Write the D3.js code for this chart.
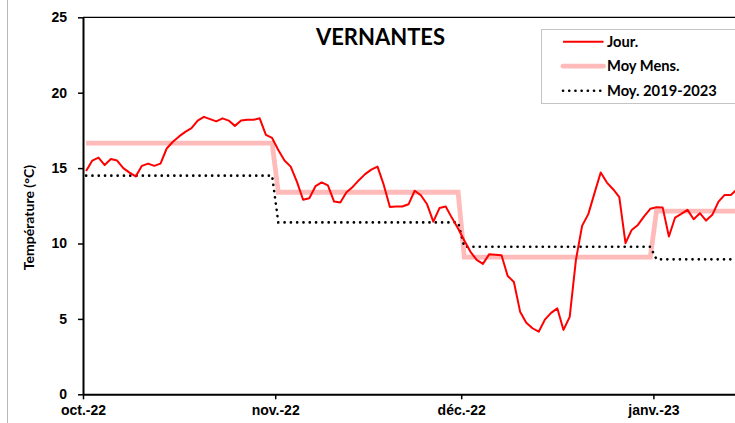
<!DOCTYPE html>
<html>
<head>
<meta charset="utf-8">
<script src="https://cdn.jsdelivr.net/npm/d3@7"></script>
<style>
  body { margin: 0; background: #fff; }
  svg { display: block; font-family: Lato, "Liberation Sans", sans-serif; font-weight: bold; }
  .axis text { font-size: 14px; fill: #000; font-weight: bold; }
  .axis path, .axis line { stroke: #000; }
</style>
</head>
<body>
<svg width="735" height="423"></svg>
<script>
// daily temperatures from 1 oct. 2022
const jour = [
  14.8, 15.5, 15.7, 15.2, 15.6, 15.5, 15.0, 14.7, 14.45, 15.15,
  15.3, 15.15, 15.3, 16.3, 16.75, 17.1, 17.4, 17.65, 18.15, 18.4,
  18.25, 18.1, 18.3, 18.15, 17.8, 18.15, 18.2, 18.2, 18.3, 17.2,
  17.0,
  16.2, 15.5, 15.1, 14.1, 12.9, 13.0, 13.8, 14.05, 13.85, 12.78,
  12.72, 13.4, 13.75, 14.2, 14.6, 14.9, 15.1, 13.9, 12.42, 12.45,
  12.45, 12.6, 13.5, 13.2, 12.6, 11.45, 12.35, 12.45, 11.7, 11.0,
  10.2, 9.45, 8.91, 8.65, 9.28, 9.25, 9.22, 7.85, 7.45, 5.48,
  4.75, 4.38, 4.15, 4.95, 5.4, 5.7, 4.27, 5.13, 8.9, 11.17,
  11.95, 13.34, 14.71, 14.04, 13.6, 13.07, 10.02, 10.9, 11.23, 11.8,
  12.3,
  12.4, 12.38, 10.46, 11.72, 11.96, 12.23, 11.61, 12.01, 11.52, 11.9,
  12.78, 13.22, 13.22, 13.6
];

// monthly values
const mois = ["2022-10", "2022-11", "2022-12", "2023-01"];
const moisLabels = ["oct.-22", "nov.-22", "déc.-22", "janv.-23"];
const moyMens = [16.65, 13.4, 9.1, 12.15];
const moy5ans = [14.5, 11.4, 9.78, 8.95];
const yTicks = [0, 5, 10, 15, 20, 25];

const svg = d3.select("svg");
const W = 735, H = 423;
const margin = {left: 83, top: 17.3, bottom: 394.3};
const pxPerDay = 6.2;
const DAY = 864e5;

const start = Date.UTC(2022, 9, 1);
const end = Date.UTC(2023, 1, 1);
const monthDates = mois.map(m => new Date(m + "-01T00:00:00Z"));

const x = d3.scaleUtc()
  .domain([new Date(start), new Date(end)])
  .range([margin.left, margin.left + (end - start) / DAY * pxPerDay]);
const y = d3.scaleLinear().domain([0, 25]).range([margin.bottom, margin.top]);

// points sit at the middle of each day
const dayDate = i => new Date(start + (i + 0.5) * DAY);
const dailyData = jour.map((v, i) => ({date: dayDate(i), v}));

// step series: each day gets its month's value
const nDays = (end - start) / DAY;
const stepData = arr => d3.range(nDays).map(i => {
  const dt = dayDate(i);
  const k = (dt.getUTCFullYear() - 2022) * 12 + dt.getUTCMonth() - 9;
  return {date: dt, v: arr[k]};
});

// outer chart border on the left
svg.append("line")
  .attr("x1", 7.5).attr("x2", 7.5).attr("y1", 0).attr("y2", H)
  .attr("stroke", "#b8b8b8").attr("stroke-width", 1);

// top border of plot area
svg.append("line")
  .attr("x1", margin.left).attr("x2", W + 5)
  .attr("y1", margin.top).attr("y2", margin.top)
  .attr("stroke", "#000").attr("stroke-width", 1.3);

const line = d3.line().x(d => x(d.date)).y(d => y(d.v));

svg.append("path")
  .datum(stepData(moyMens))
  .attr("fill", "none")
  .attr("stroke", "#ffbaba")
  .attr("stroke-width", 4.8)
  .attr("d", line);

svg.append("path")
  .datum(stepData(moy5ans))
  .attr("fill", "none")
  .attr("stroke", "#000")
  .attr("stroke-width", 2.6)
  .attr("stroke-linecap", "round")
  .attr("stroke-dasharray", "0.1 6.2")
  .attr("d", line);

svg.append("path")
  .datum(dailyData)
  .attr("fill", "none")
  .attr("stroke", "#ff0000")
  .attr("stroke-width", 2)
  .attr("stroke-linejoin", "round")
  .attr("d", line);

// axes
svg.append("g")
  .attr("class", "axis")
  .attr("transform", `translate(${margin.left},0)`)
  .call(d3.axisLeft(y).tickValues(yTicks).tickSize(5).tickSizeOuter(0).tickPadding(11))
  .call(g => g.select(".domain").attr("stroke-width", 2))
  .call(g => g.selectAll(".tick line").attr("stroke-width", 1.5));

svg.append("g")
  .attr("class", "axis")
  .attr("transform", `translate(0,${margin.bottom})`)
  .call(d3.axisBottom(x).tickValues(monthDates).tickFormat((d, i) => moisLabels[i])
    .tickSize(5).tickSizeOuter(0).tickPadding(6))
  .call(g => g.select(".domain").attr("stroke-width", 2))
  .call(g => g.selectAll(".tick line").attr("stroke-width", 1.5))
  .call(g => g.selectAll(".tick text").attr("dy", "0.71em"));

// axis title
svg.append("text")
  .attr("transform", `translate(33.5,217.5) rotate(-90)`)
  .attr("text-anchor", "middle")
  .style("font-size", "14px")
  .text("Température (°C)");

// title
svg.append("text")
  .attr("x", 380.5).attr("y", 45)
  .attr("text-anchor", "middle")
  .style("font-size", "22px")
  .text("VERNANTES");

// legend
const legend = svg.append("g");
legend.append("rect")
  .attr("x", 541.5).attr("y", 29.5).attr("width", 220).attr("height", 74)
  .attr("fill", "#fff").attr("stroke", "#c4c4c4").attr("stroke-width", 1);

const legItems = [
  {label: "Jour.", color: "#ff0000", w: 2, dash: null, cap: "butt"},
  {label: "Moy Mens.", color: "#ffbaba", w: 4.8, dash: null, cap: "round"},
  {label: "Moy. 2019-2023", color: "#000", w: 2.6, dash: "0.1 6.1", cap: "round"}
];
legItems.forEach((it, i) => {
  const ly = 41.7 + i * 24.5;
  legend.append("line")
    .attr("x1", 563).attr("x2", 603.5).attr("y1", ly).attr("y2", ly)
    .attr("stroke", it.color).attr("stroke-width", it.w)
    .attr("stroke-linecap", it.cap)
    .attr("stroke-dasharray", it.dash);
  legend.append("text")
    .attr("x", 607).attr("y", ly + 5)
    .style("font-size", "14.7px")
    .text(it.label);
});
</script>
</body>
</html>
